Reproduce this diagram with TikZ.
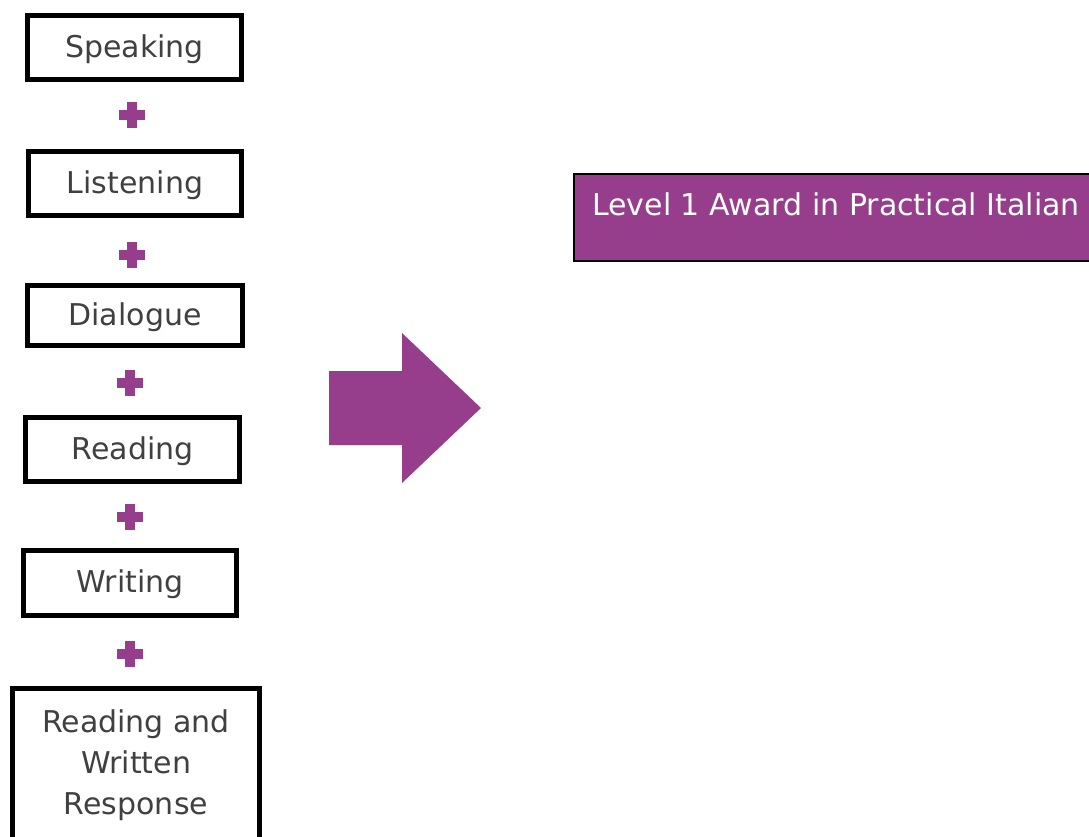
\documentclass[tikz,border=0pt]{standalone}
\usepackage{fontspec}
\setmainfont{DejaVu Sans}
\definecolor{pur}{RGB}{150,62,140}
\definecolor{txt}{RGB}{64,64,64}
\begin{document}
\begin{tikzpicture}[x=1pt,y=-1pt,
  skill/.style={draw=black,line width=5pt,fill=white,inner sep=0pt,text=txt,
    font=\fontsize{30}{41}\selectfont,text height=24pt,text depth=5pt},
  plussign/.pic={\fill[pur] (-13,-5) rectangle (13,5); \fill[pur] (-5,-13) rectangle (5,13);}
]
\useasboundingbox (0,0) rectangle (1089,836);
\clip (0,0) rectangle (1089,836);
\fill[white] (0,0) rectangle (1089,836);

\node[skill,minimum width=214pt,minimum height=64pt] (speak) at (134.5,47.5) {Speaking};
\node[skill,minimum width=213pt,minimum height=64pt] (listen) at (135,183.5) {Listening};
\node[skill,minimum width=215pt,minimum height=60pt] (dialog) at (135,315.5) {Dialogue};
\node[skill,minimum width=214pt,minimum height=64pt] (read) at (132.7,449.7) {Reading};
\node[skill,minimum width=213pt,minimum height=65pt] (write) at (130,583) {Writing};
\node[skill,minimum width=247pt,minimum height=183pt] (rwbox) at (136,780) {};
\node[text=txt,font=\fontsize{30}{41}\selectfont,align=center,inner sep=0pt] (rwtext) at (136,765) {Reading and\\Written\\Response};

\pic at (132,115) {plussign};
\pic at (132,255) {plussign};
\pic at (130,383) {plussign};
\pic at (130,517) {plussign};
\pic at (130,654) {plussign};

\fill[pur] (329,371) -- (402,371) -- (402,333) -- (481,408) -- (402,483) -- (402,445) -- (329,445) -- cycle;

\node[draw=black,line width=2pt,fill=pur,minimum width=540pt,minimum height=87pt,inner sep=0pt] (award) at (844,217.5) {};
\node[text=white,font=\fontsize{30}{41}\selectfont,inner sep=0pt,text height=24pt,text depth=5pt] (awardtext) at (836,205.5) {Level 1 Award in Practical Italian};
\end{tikzpicture}
\end{document}
